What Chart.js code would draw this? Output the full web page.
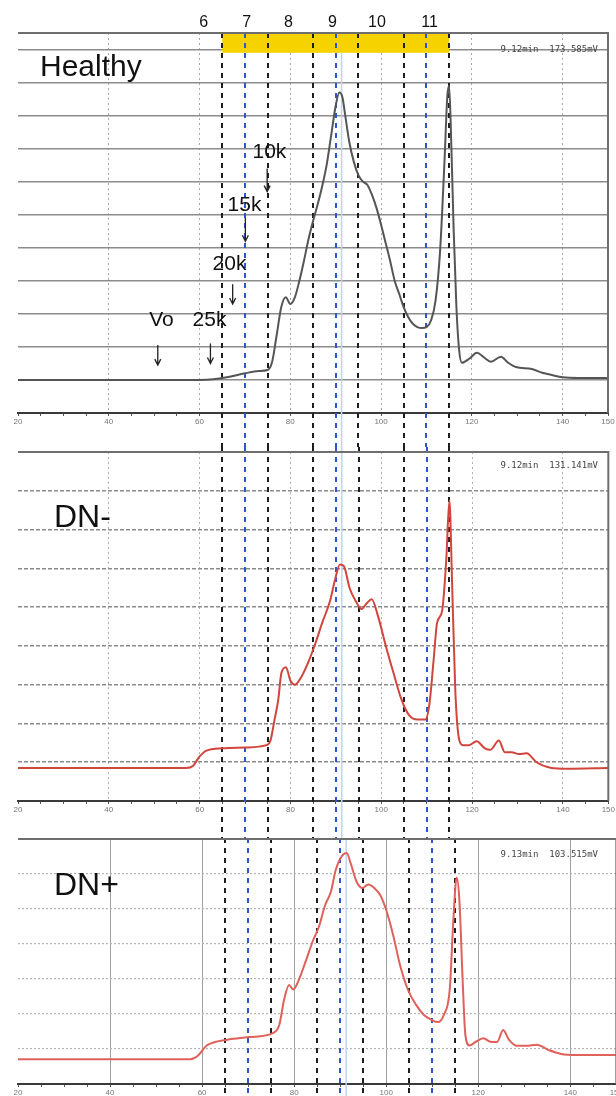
<!DOCTYPE html>
<html>
<head>
<meta charset="utf-8">
<title>Chromatograms</title>
<script src="https://cdn.jsdelivr.net/npm/chart.js@4.4.0/dist/chart.umd.min.js"></script>
<style>
  html, body { margin: 0; padding: 0; background: #fff; overflow: hidden; }
  #wrap { position: relative; width: 616px; height: 1096px; overflow: hidden; }
  canvas { position: absolute; left: 0; }
</style>
</head>
<body>
<div id="wrap">
  <canvas id="healthy" width="616" height="447" style="top:0"></canvas>
  <canvas id="dnMinus" width="616" height="391" style="top:447px"></canvas>
  <canvas id="dnPlus" width="624" height="258" style="top:838px"></canvas>
</div>
<script>
// elution volume traces (x) and detector signal in grid units (y)
const healthyX = [20, 40, 60, 63, 66, 70, 73, 75, 76, 77, 78, 79, 80, 81, 82, 83, 84, 85, 86, 87, 88, 89, 90, 90.8, 91.5, 92, 93, 94, 95, 96, 97, 98, 99, 100, 101, 102, 103, 104, 105, 106, 107, 108, 109, 110, 111, 112, 113, 114, 114.6, 115, 115.5, 116, 116.6, 117.2, 117.8, 119.5, 121.1, 122.7, 124.2, 126.4, 128, 129.7, 133.2, 135.5, 137.6, 140, 143.5, 150];
const healthyY = [1.0, 1.0, 1.0, 1.02, 1.08, 1.2, 1.27, 1.3, 1.55, 2.36, 3.2, 3.5, 3.3, 3.5, 4.0, 4.6, 5.25, 5.8, 6.3, 6.85, 7.5, 8.4, 9.3, 9.7, 9.55, 9.1, 8.2, 7.6, 7.2, 7.0, 6.9, 6.6, 6.2, 5.7, 5.15, 4.6, 4.0, 3.6, 3.2, 2.9, 2.7, 2.6, 2.57, 2.6, 2.8, 3.4, 4.9, 7.7, 9.6, 9.9, 8.0, 5.5, 3.2, 1.9, 1.52, 1.65, 1.82, 1.68, 1.55, 1.7, 1.52, 1.39, 1.33, 1.22, 1.15, 1.08, 1.06, 1.06];

const dnMinusX = [20, 40, 57, 58.5, 60, 61.5, 65, 70, 74.7, 75.6, 76.5, 77.3, 78, 79, 80, 81, 82.4, 84, 85.6, 87, 88.7, 89.8, 90.9, 91.8, 93, 94.4, 95.7, 96.8, 97.9, 99.2, 101, 102.7, 104.5, 106.2, 108, 109.7, 110.6, 111.5, 112.3, 113.4, 114.3, 115, 115.6, 116.3, 117.2, 118, 119.3, 121, 122.8, 124, 125.9, 127.2, 128.7, 130.3, 132, 134.2, 137.5, 140.8, 150];
const dnMinusY = [0.85, 0.85, 0.85, 0.9, 1.15, 1.3, 1.36, 1.38, 1.44, 1.56, 2.1, 2.6, 3.3, 3.45, 3.1, 3.0, 3.2, 3.6, 4.1, 4.6, 5.15, 5.7, 6.1, 6.05, 5.5, 5.15, 4.95, 5.1, 5.2, 4.8, 4.0, 3.3, 2.6, 2.2, 2.1, 2.1, 2.5, 3.6, 4.6, 4.9, 6.2, 7.75, 5.6, 2.85, 1.56, 1.44, 1.44, 1.54, 1.36, 1.32, 1.56, 1.26, 1.26, 1.21, 1.23, 1.0, 0.85, 0.83, 0.85];

const dnPlusX = [20, 40, 57.5, 59, 61, 62.8, 65.2, 70.3, 75.5, 76.8, 77.8, 78.9, 79.8, 81, 82.6, 84.1, 85.4, 86.7, 88, 89, 90.3, 91.4, 92.3, 93.5, 94.8, 96.1, 97.4, 98.7, 100, 101.5, 103, 104.7, 106.5, 108.2, 109.9, 111.2, 112.5, 113.8, 114.6, 115.3, 115.9, 116.6, 117.2, 118.1, 119.4, 121.1, 122.8, 124.1, 125.4, 126.7, 128.4, 130.5, 132.7, 135.3, 138, 141.3, 150];
const dnPlusY = [0.71, 0.71, 0.71, 0.8, 1.1, 1.2, 1.26, 1.34, 1.46, 1.7, 2.4, 2.83, 2.7, 2.97, 3.54, 4.1, 4.5, 5.1, 5.5, 6.1, 6.5, 6.6, 6.3, 5.8, 5.6, 5.7, 5.6, 5.4, 4.97, 4.26, 3.4, 2.7, 2.26, 1.97, 1.83, 1.77, 1.97, 2.7, 4.7, 5.9, 5.26, 3.0, 1.4, 1.1, 1.2, 1.31, 1.2, 1.2, 1.54, 1.26, 1.09, 1.09, 1.12, 0.97, 0.86, 0.83, 0.83];

// fraction boundaries and labels
const fractionLines = [65, 70, 75, 85, 90, 95, 105, 110, 115];
const blueLines = [70, 90, 110];
const refLineX = 91.3;
const fractionNames = ['6', '7', '8', '9', '10', '11'];
const fractionNameX = [60.9, 70.4, 79.6, 89.3, 99.1, 110.7];
const yellowFrom = 65;
const yellowTo = 115;

// molecular weight markers (healthy panel)
const mwLabels = ['10k', '15k', '20k', '25k', 'Vo'];
const mwLabelX = [75.4, 69.9, 66.6, 62.2, 51.6];
const mwLabelY = [7.9, 6.3, 4.5, 2.8, 2.8];
const mwArrowX = [74.9, 70.1, 67.3, 62.4, 50.8];
const mwArrowTop = [7.4, 5.9, 3.9, 2.1, 2.06];
const mwArrowBottom = [6.7, 5.2, 3.3, 1.5, 1.45];

Chart.defaults.font.family = '"Liberation Sans", Arial, sans-serif';

function overlay(opts) {
    return {
        id: 'overlay',
        beforeDatasetsDraw(chart) {
            const { ctx, chartArea: a, scales: { x, y } } = chart;
            ctx.save();
            let lineTop = opts.dashFromTop ? 0 : a.top;
            if (opts.yellow) {
                const x0 = x.getPixelForValue(yellowFrom);
                const x1 = x.getPixelForValue(yellowTo);
                const y1 = y.getPixelForValue(opts.yellowBottom);
                ctx.fillStyle = '#f6d200';
                ctx.fillRect(x0, a.top, x1 - x0, y1 - a.top);
            }
            // faint reference line
            const rx = x.getPixelForValue(refLineX);
            ctx.strokeStyle = '#bcd6f2';
            ctx.lineWidth = 1.5;
            ctx.beginPath();
            ctx.moveTo(rx, opts.yellow ? y.getPixelForValue(opts.yellowBottom) : lineTop);
            ctx.lineTo(rx, chart.height);
            ctx.stroke();
            // dashed fraction boundaries
            ctx.lineWidth = 2;
            ctx.setLineDash([5, 5]);
            fractionLines.forEach(v => {
                const px = Math.round(x.getPixelForValue(v));
                ctx.strokeStyle = blueLines.includes(v) ? '#2e56cc' : '#1e1e1e';
                ctx.beginPath();
                ctx.moveTo(px, lineTop);
                ctx.lineTo(px, chart.height);
                ctx.stroke();
            });
            ctx.restore();
        },
        afterDraw(chart) {
            const { ctx, chartArea: a, scales: { x, y } } = chart;
            ctx.save();
            // frame
            ctx.strokeStyle = '#6e6e6e';
            ctx.lineWidth = 2;
            ctx.beginPath();
            ctx.moveTo(a.left, a.top);
            ctx.lineTo(a.right, a.top);
            ctx.lineTo(a.right, a.bottom);
            ctx.stroke();

            // panel label
            ctx.fillStyle = '#111';
            ctx.font = opts.labelFont;
            ctx.textBaseline = 'middle';
            ctx.textAlign = 'left';
            ctx.fillText(opts.label, a.left + opts.labelDx, a.top + opts.labelDy);

            // run info
            ctx.font = '9px "DejaVu Sans Mono", monospace';
            ctx.fillStyle = '#444';
            ctx.textAlign = 'right';
            ctx.fillText(opts.info, opts.infoRight, a.top + opts.infoDy);

            if (opts.markers) {
                ctx.fillStyle = '#111';
                ctx.font = '16px "Liberation Sans", Arial, sans-serif';
                ctx.textAlign = 'center';
                fractionNames.forEach((n, i) => {
                    ctx.fillText(n, x.getPixelForValue(fractionNameX[i]), a.top - 10);
                });
                ctx.font = '21px "Liberation Sans", Arial, sans-serif';
                mwLabels.forEach((t, i) => {
                    ctx.fillText(t, x.getPixelForValue(mwLabelX[i]), y.getPixelForValue(mwLabelY[i]));
                    const ax = x.getPixelForValue(mwArrowX[i]);
                    const y0 = y.getPixelForValue(mwArrowTop[i]);
                    const y1 = y.getPixelForValue(mwArrowBottom[i]);
                    ctx.strokeStyle = '#222';
                    ctx.lineWidth = 1.3;
                    ctx.beginPath();
                    ctx.moveTo(ax, y0);
                    ctx.lineTo(ax, y1);
                    ctx.moveTo(ax - 3, y1 - 6);
                    ctx.lineTo(ax, y1);
                    ctx.lineTo(ax + 3, y1 - 6);
                    ctx.stroke();
                });
            }
            ctx.restore();
        }
    };
}

function makeChart(id, xs, ys, opts) {
    const el = document.getElementById(id);
    return new Chart(el, {
        type: 'line',
        data: {
            datasets: [{
                data: xs.map((v, i) => ({ x: v, y: ys[i] })),
                borderColor: opts.color,
                borderWidth: opts.lineWidth,
                pointRadius: 0,
                cubicInterpolationMode: 'monotone',
                fill: false
            }]
        },
        options: {
            responsive: false,
            animation: false,
            layout: { padding: opts.padding, autoPadding: false },
            plugins: { legend: { display: false }, tooltip: { enabled: false } },
            scales: {
                x: {
                    type: 'linear',
                    min: 20,
                    max: 150,
                    afterFit: s => { s.height = opts.xAxisHeight; },
                    ticks: {
                        stepSize: 5,
                        autoSkip: false,
                        maxRotation: 0,
                        padding: 1,
                        color: '#777',
                        font: { size: 8 },
                        callback: v => (v % 20 === 0 || v === 150) ? String(v) : ''
                    },
                    grid: {
                        color: c => (c.tick && c.tick.value % 20 === 0 && c.tick.value > 20) ? opts.vGridColor : 'rgba(0,0,0,0)',
                        lineWidth: 1,
                        tickColor: '#555',
                        tickLength: 3
                    },
                    border: { color: '#3a3a3a', width: 2, dash: opts.vDash }
                },
                y: {
                    min: 0,
                    max: opts.yMax,
                    afterFit: s => { s.width = 0; },
                    ticks: { display: false, stepSize: 1 },
                    grid: { color: opts.hGridColor, lineWidth: opts.hGridWidth, drawTicks: false },
                    border: { display: false, dash: opts.hDash }
                }
            }
        },
        plugins: [overlay(opts)]
    });
}

makeChart('healthy', healthyX, healthyY, {
    color: '#555555', lineWidth: 2,
    padding: { left: 18, right: 8, top: 33, bottom: 0 },
    xAxisHeight: 34, yMax: 11.5,
    vGridColor: '#a8a8a8', vDash: [2, 3],
    hGridColor: '#8c8c8c', hGridWidth: 1.5, hDash: [],
    yellow: true, yellowBottom: 10.9,
    dashFromTop: false,
    label: 'Healthy', labelFont: '30px "Liberation Sans", Arial, sans-serif', labelDx: 22, labelDy: 35,
    info: '9.12min  173.585mV', infoDy: 17, infoRight: 598,
    markers: true
});

makeChart('dnMinus', dnMinusX, dnMinusY, {
    color: '#d2453c', lineWidth: 2,
    padding: { left: 18, right: 2, top: 5, bottom: 0 },
    xAxisHeight: 37, yMax: 9,
    vGridColor: '#b0b0b0', vDash: [2, 3],
    hGridColor: '#8c8c8c', hGridWidth: 1.5, hDash: [4, 2],
    yellow: false, dashFromTop: true,
    label: 'DN-', labelFont: '32px "Liberation Sans", Arial, sans-serif', labelDx: 36, labelDy: 66,
    info: '9.12min  131.141mV', infoDy: 14, infoRight: 598,
    markers: false
});

makeChart('dnPlus', dnPlusX, dnPlusY, {
    color: '#e0605a', lineWidth: 2,
    padding: { left: 18, right: 0, top: 1, bottom: 0 },
    xAxisHeight: 12, yMax: 7,
    vGridColor: '#a0a0a0', vDash: [],
    hGridColor: '#b4b4b4', hGridWidth: 1.2, hDash: [2, 2],
    yellow: false, dashFromTop: true,
    label: 'DN+', labelFont: '32px "Liberation Sans", Arial, sans-serif', labelDx: 36, labelDy: 47,
    info: '9.13min  103.515mV', infoDy: 16, infoRight: 598,
    markers: false
});
</script>
</body>
</html>
